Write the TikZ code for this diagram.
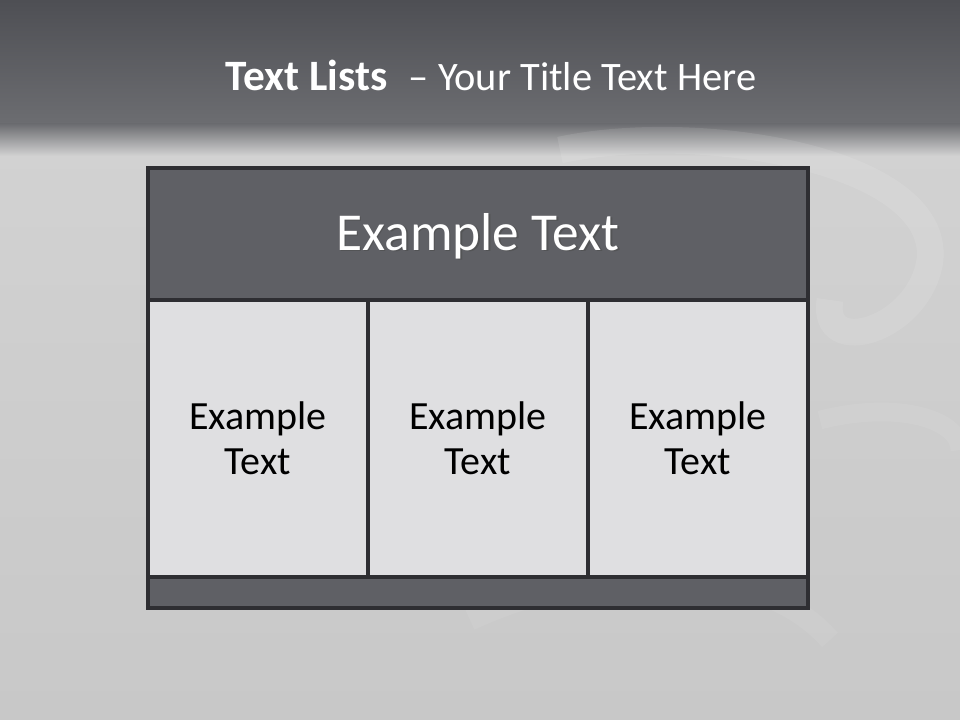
\documentclass[tikz,border=0pt]{standalone}
\usepackage{fontspec}
\setmainfont{Carlito}
\usetikzlibrary{calc}
\definecolor{bandtop}{HTML}{4E4F54}
\definecolor{bandbot}{HTML}{6C6D71}
\definecolor{bglight}{HTML}{D2D2D2}
\definecolor{bgmid}{HTML}{C8C8C8}
\definecolor{hdrfill}{HTML}{5F6065}
\definecolor{cellfill}{HTML}{DFDFE1}
\definecolor{edge}{HTML}{2E2E32}
\tikzset{
  box/.style={draw=edge, line width=2.4pt, inner sep=0pt, outer sep=0pt},
  hdr/.style={box, fill=hdrfill},
  cell/.style={box, fill=cellfill},
  celltxt/.style={font=\fontsize{30}{34}\selectfont, align=center, text=black},
}
\begin{document}
\begin{tikzpicture}[x=0.75pt,y=-0.75pt]
\useasboundingbox (0,0) rectangle (960,720);
% background
\fill[bgmid] (0,0) rectangle (960,720);
\shade[top color=bglight, bottom color=bgmid] (0,140) rectangle (960,720);
\shade[top color=bandtop, bottom color=bandbot] (0,0) rectangle (960,124);
\shade[top color=bandbot, bottom color=bglight] (0,124) rectangle (960,156);
% faint swirl decoration
\draw[white, opacity=0.1, line width=20pt] (560,150) .. controls (700,120) and (940,160) .. (930,260) .. controls (920,330) and (820,360) .. (830,300);
\draw[white, opacity=0.07, line width=14pt] (820,420) .. controls (900,400) and (960,420) .. (960,450);
\draw[white, opacity=0.06, line width=16pt] (470,620) .. controls (600,560) and (760,560) .. (830,640);
% title
\node[text=white, anchor=center] (title) at (491,75)
  {{\fontsize{32.5}{36}\selectfont\textbf{Text Lists}}\hspace{16pt}{\fontsize{30.3}{36}\selectfont – Your Title Text Here}};
% table
\path[hdr] (148,168) rectangle (808,300);
\path[cell] (148,300) rectangle (368,577);
\path[cell] (368,300) rectangle (588,577);
\path[cell] (588,300) rectangle (808,577);
\path[hdr] (148,577) rectangle (808,608);
\coordinate (hc) at (478,236);
\node[text=black!70, opacity=0.6, font=\fontsize{40}{46}\selectfont] (hshadow) at ($(hc)+(1.5,1.5)$) {Example Text};
\node[text=white, font=\fontsize{40}{46}\selectfont] (header) at (hc) {Example Text};
\node[celltxt] (c1) at (258,438) {Example\\Text};
\node[celltxt] (c2) at (478,438) {Example\\Text};
\node[celltxt] (c3) at (698,438) {Example\\Text};
\end{tikzpicture}
\end{document}
